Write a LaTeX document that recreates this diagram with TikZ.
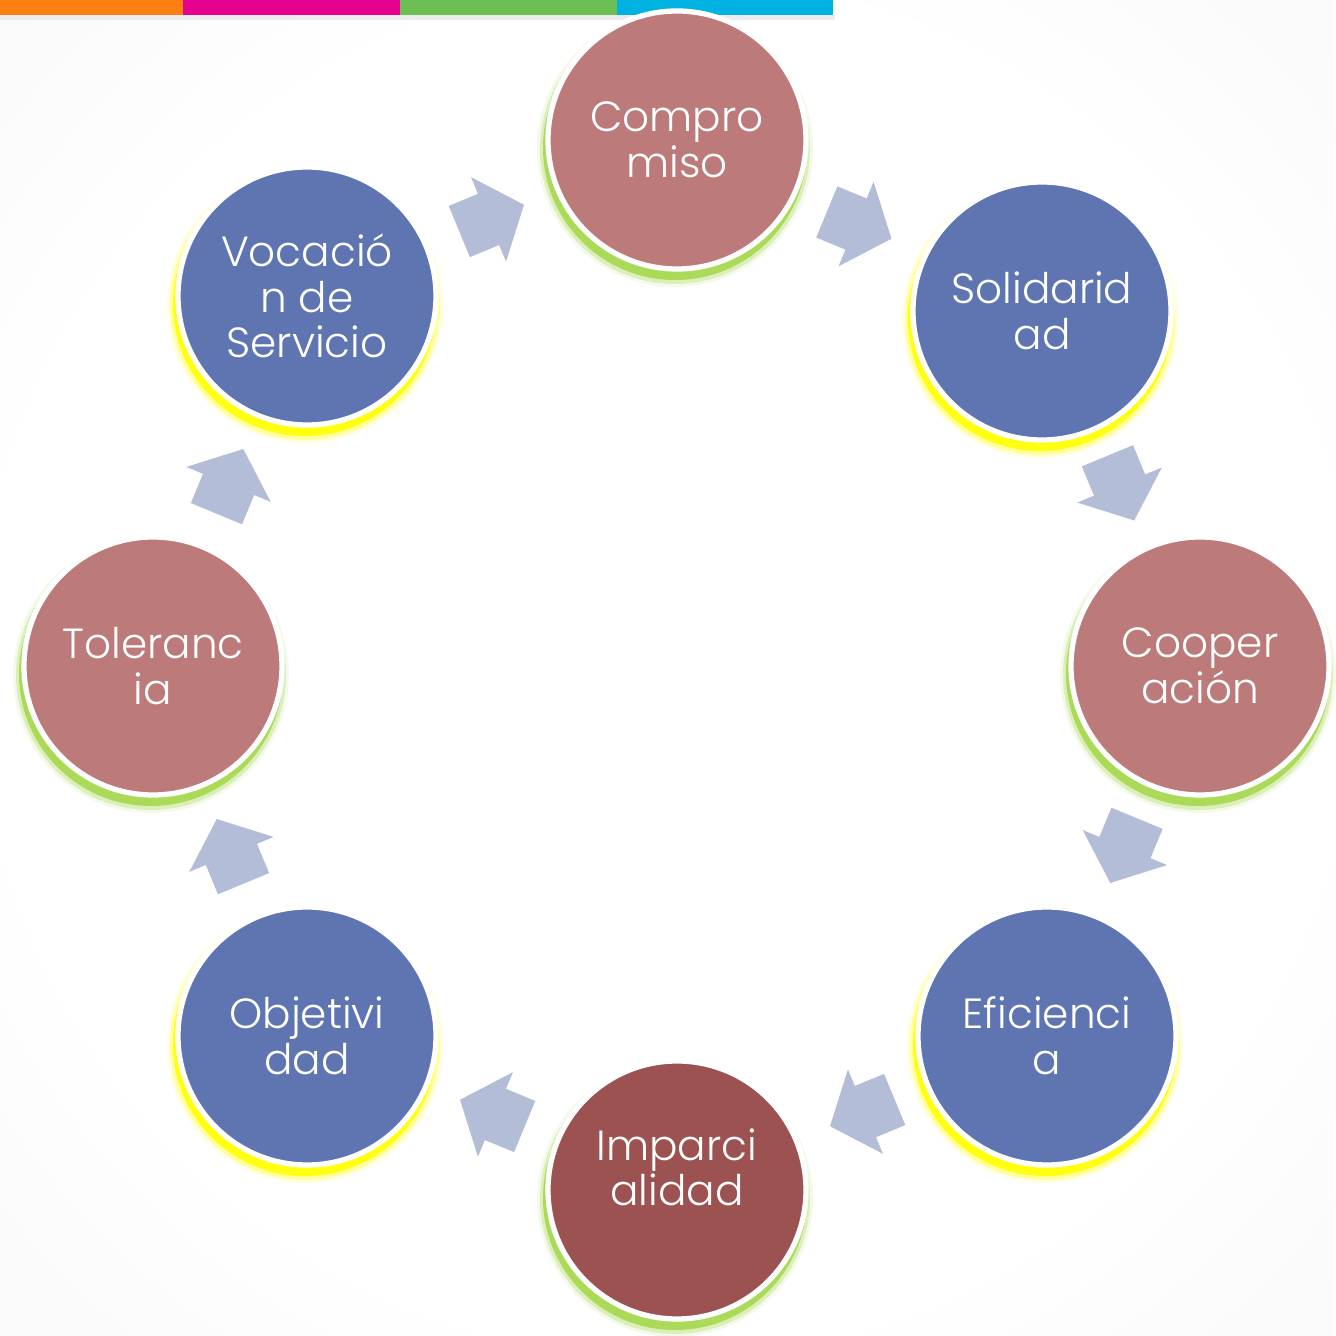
\documentclass[tikz,border=0pt]{standalone}
\usepackage{fontspec}
\setmainfont{Poppins Light}
\usetikzlibrary{shapes.arrows,backgrounds,calc}
\definecolor{rosa}{HTML}{BC7B7A}
\definecolor{azul}{HTML}{5F75B2}
\definecolor{vino}{HTML}{9C5251}
\definecolor{flechac}{HTML}{B4BDD7}
\definecolor{verdeb}{HTML}{A6D84F}
\definecolor{amarb}{HTML}{FFFF00}
\definecolor{naranja}{HTML}{FF8012}
\definecolor{barmag}{HTML}{E5008E}
\definecolor{barver}{HTML}{6BBF54}
\definecolor{barcian}{HTML}{00B2E1}
\pgfdeclareradialshading{fondo}{\pgfpoint{0bp}{0bp}}{color(0bp)=(white); color(25bp)=(white); color(55bp)=(gray!12); color(72bp)=(gray!15)}

\begin{document}
\begin{tikzpicture}[font=\fontsize{12}{13}\selectfont,
  valor/.style={circle,draw=white,line width=1.5pt,minimum size=2.58cm,inner sep=0pt,align=center,text=white},
  flecha/.style={single arrow,fill=flechac,draw=none,minimum height=0.7cm,inner xsep=0pt,inner ysep=0.27cm,
    single arrow head extend=0.18cm,single arrow tip angle=100}]
\useasboundingbox (0,0) rectangle (13.35,13.36);
\node[valor,fill=rosa] (comp) at (6.77,11.96) {Compro\\miso};
\node[valor,fill=azul] (soli) at (10.42,10.25) {Solidarid\\ad};
\node[valor,fill=rosa] (coop) at (12.00,6.70) {Cooper\\ación};
\node[valor,fill=azul] (efic) at (10.47,3.00) {Eficienci\\a};
\node[valor,fill=vino] (impa) at (6.77,1.46) {Imparci\\alidad\\\mbox{}};
\node[valor,fill=azul] (obje) at (3.07,3.00) {Objetivi\\dad};
\node[valor,fill=rosa] (tole) at (1.53,6.70) {Toleranc\\ia};
\node[valor,fill=azul] (voca) at (3.07,10.40) {Vocació\\n de\\Servicio};
% flechas entre valores
\foreach \a/\b/\ang [count=\i] in {comp/soli/-22.5,soli/coop/-67.5,coop/efic/-112.5,efic/impa/-157.5,
    impa/obje/157.5,obje/tole/112.5,tole/voca/67.5,voca/comp/22.5}
  \node[flecha,rotate=\ang,xshift=-0.12cm] (f\i) at ($(\a)!0.5!(\b)$) {};
\begin{scope}[on background layer]
\fill[shading=fondo] (0,0) rectangle (13.35,13.36);
\fill[gray!15] (0,13.21) rectangle (8.35,13.16);
\fill[naranja] (0,13.36) rectangle (1.83,13.21);
\fill[barmag] (1.83,13.36) rectangle (4.00,13.21);
\fill[barver] (4.00,13.36) rectangle (6.17,13.21);
\fill[barcian] (6.17,13.36) rectangle (8.33,13.21);
% brillo bajo cada circulo
\foreach \n/\c in {comp/verdeb,soli/amarb,coop/verdeb,efic/amarb,impa/verdeb,obje/amarb,tole/verdeb,voca/amarb}{
  \fill[\c,opacity=0.12] ([shift={(-0.02,-0.09)}]\n.center) circle (1.38);
  \fill[\c,opacity=0.3] ([shift={(-0.02,-0.09)}]\n.center) circle (1.35);
  \fill[\c,opacity=0.9] ([shift={(-0.02,-0.08)}]\n.center) circle (1.32);
}
\end{scope}
\end{tikzpicture}
\end{document}
